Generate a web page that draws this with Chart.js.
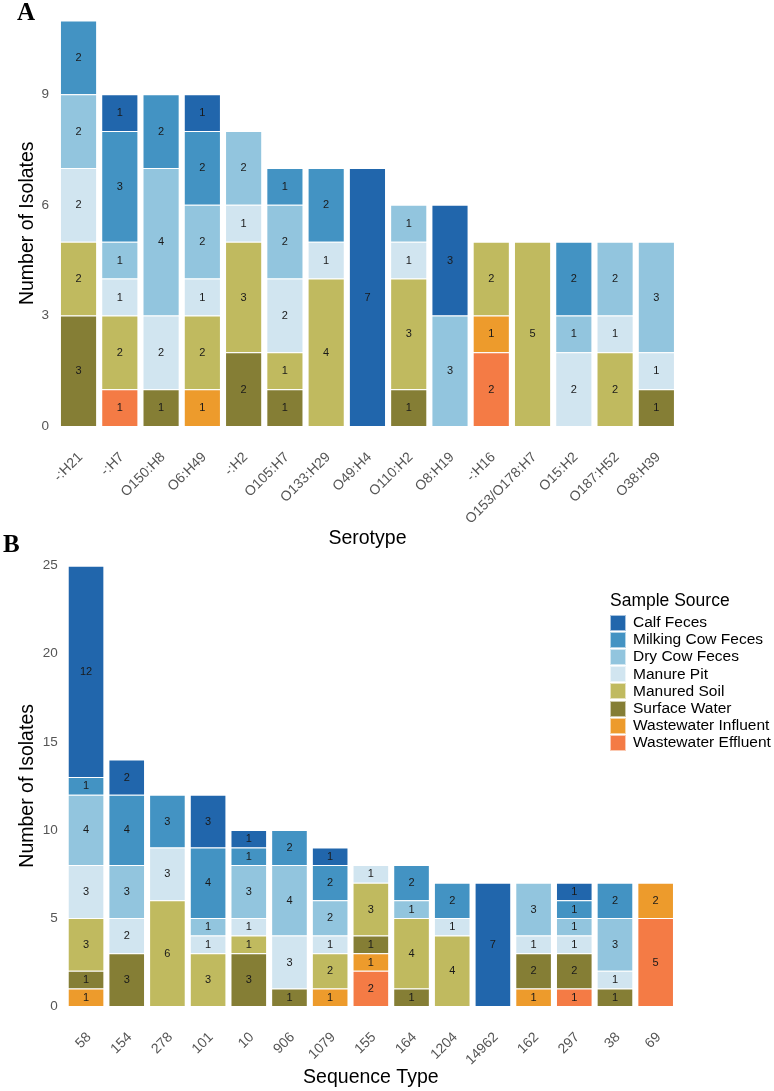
<!DOCTYPE html>
<html><head><meta charset="utf-8">
<script src="https://cdn.jsdelivr.net/npm/chart.js@4"></script>
<style>
html,body{margin:0;padding:0;background:#fff;width:774px;height:1091px;overflow:hidden;position:relative;font-family:"Liberation Sans",Arial,sans-serif}
.wrap{position:absolute;left:0;width:774px}
#wa{top:0;height:560px}
#wb{top:530px;height:561px}
.pl{position:absolute;font-family:"Liberation Serif","Times New Roman",serif;font-weight:bold;font-size:25px;line-height:25px;color:#000}
#legend{position:absolute;left:610px;top:590px;color:#000}
#legend .t{font-size:17.5px;line-height:20px;height:24px;white-space:nowrap}
#legend .r{height:17.2px;position:relative;white-space:nowrap}
#legend .s{position:absolute;left:0;top:0.6px;width:16px;height:16px;box-sizing:border-box;border:1px solid rgba(255,255,255,0.6)}
#legend .l{position:absolute;left:23px;top:-1px;font-size:15.5px;line-height:18px}
</style>
</head><body>
<div class="wrap" id="wa"><canvas id="ca"></canvas></div>
<div class="wrap" id="wb"><canvas id="cb"></canvas></div>
<div class="pl" style="left:17px;top:-1px">A</div>
<div class="pl" style="left:3px;top:531px">B</div>
<div id="legend"></div>
<script>
// ---- data ----
const sources = ['Calf Feces','Milking Cow Feces','Dry Cow Feces','Manure Pit','Manured Soil','Surface Water','Wastewater Influent','Wastewater Effluent'];
const sourceColors = ['#2166ac','#4393c3','#92c5de','#d1e5f0','#c0ba5f','#857e35','#ed9b2c','#f47b45'];

const serotypes = ['-:H21','-:H7','O150:H8','O6:H49','-:H2','O105:H7','O133:H29','O49:H4','O110:H2','O8:H19','-:H16','O153/O178:H7','O15:H2','O187:H52','O38:H39'];
const calfA      = [0,1,0,1,0,0,0,7,0,3,0,0,0,0,0];
const milkingA   = [2,3,2,2,0,1,2,0,0,0,0,0,2,0,0];
const dryA       = [2,1,4,2,2,2,0,0,1,3,0,0,1,2,3];
const pitA       = [2,1,2,1,1,2,1,0,1,0,0,0,2,1,1];
const soilA      = [2,2,0,2,3,1,4,0,3,0,2,5,0,2,0];
const surfaceA   = [3,0,1,0,2,1,0,0,1,0,0,0,0,0,1];
const influentA  = [0,0,0,1,0,0,0,0,0,0,1,0,0,0,0];
const effluentA  = [0,1,0,0,0,0,0,0,0,0,2,0,0,0,0];
const yTicksA = [0,3,6,9];
const yMaxA = 11;

const seqTypes = ['58','154','278','101','10','906','1079','155','164','1204','14962','162','297','38','69'];
const calfB      = [12,2,0,3,1,0,1,0,0,0,7,0,1,0,0];
const milkingB   = [1,4,3,4,1,2,2,0,2,2,0,0,1,2,0];
const dryB       = [4,3,0,1,3,4,2,0,1,0,0,3,1,3,0];
const pitB       = [3,2,3,1,1,3,1,1,0,1,0,1,1,1,0];
const soilB      = [3,0,6,3,1,0,2,3,4,4,0,0,0,0,0];
const surfaceB   = [1,3,0,0,3,1,0,1,1,0,0,2,2,1,0];
const influentB  = [1,0,0,0,0,0,1,1,0,0,0,1,0,0,2];
const effluentB  = [0,0,0,0,0,0,0,2,0,0,0,0,1,0,5];
const yTicksB = [0,5,10,15,20,25];
const yMaxB = 25;

// ---- chart helpers ----
const FONT = '"Liberation Sans", Arial, sans-serif';
const segLabels = {
  id:'segLabels',
  afterDatasetsDraw(chart){
    const ctx = chart.ctx; ctx.save();
    ctx.font = '11px ' + FONT;
    ctx.fillStyle = '#1a1a1a'; ctx.textAlign = 'center'; ctx.textBaseline = 'middle';
    chart.data.datasets.forEach((ds,i)=>{
      const meta = chart.getDatasetMeta(i);
      meta.data.forEach((el,j)=>{
        const v = ds.data[j]; if (v == null) return;
        ctx.fillText(String(v), el.x, (el.y + el.base)/2 + 0.5);
      });
    });
    ctx.restore();
  }
};

function buildDatasets(seriesList){
  // bottom of stack first: reverse the legend order
  const ds = seriesList.map((arr,i)=>({
    label: sources[i],
    data: arr.map(v=> v>0 ? v : null),
    backgroundColor: sourceColors[i],
    borderColor: 'rgba(255,255,255,0.55)',
    borderWidth: 1,
    barPercentage: 0.9,
    categoryPercentage: 1.0
  }));
  return ds.reverse();
}

function makeChart(id, labels, seriesList, yTicks, yMax, cfg){
  return new Chart(document.getElementById(id), {
    type:'bar',
    data:{labels, datasets: buildDatasets(seriesList)},
    plugins:[segLabels],
    options:{
      responsive:true, maintainAspectRatio:false, animation:false,
      layout:{padding:{left:0,right:cfg.padRight,top:cfg.padTop,bottom:0}},
      plugins:{legend:{display:false}, tooltip:{enabled:false}},
      scales:{
        x:{
          stacked:true,
          grid:{display:false, drawTicks:false}, border:{display:false},
          ticks:{color:'#555', font:{size:14,family:FONT}, minRotation:45, maxRotation:45, autoSkip:false, padding:cfg.xPad, labelOffset:cfg.xOff},
          title:{display:true, text:cfg.xTitle, color:'#000', font:{size:19.5,family:FONT}, padding:{top:0,bottom:cfg.xTitlePad}},
          afterFit(s){ s.height = cfg.xHeight; }
        },
        y:{
          stacked:true, min:0, max:yMax,
          grid:{display:false, drawTicks:false}, border:{display:false},
          afterBuildTicks(s){ s.ticks = yTicks.map(v=>({value:v})); },
          ticks:{color:'#555', font:{size:13.5,family:FONT}, padding:cfg.yPad},
          title:{display:true, text:'Number of Isolates', color:'#000', font:{size:19.5,family:FONT}, padding:{top:16.3,bottom:0}},
          afterFit(s){ s.width = cfg.yWidth; }
        }
      }
    }
  });
}

makeChart('ca', serotypes,
  [calfA,milkingA,dryA,pitA,soilA,surfaceA,influentA,effluentA],
  yTicksA, yMaxA,
  {padRight:97, padTop:20.5, xHeight:134, yWidth:57.9, xPad:23, xOff:2, yPad:9, xTitle:'Serotype', xTitlePad:10});

makeChart('cb', seqTypes,
  [calfB,milkingB,dryB,pitB,soilB,surfaceB,influentB,effluentB],
  yTicksB, yMaxB,
  {padRight:98, padTop:35.7, xHeight:85, yWidth:65.7, xPad:23, xOff:3, yPad:8, xTitle:'Sequence Type', xTitlePad:1.5});

// ---- legend ----
const lg = document.getElementById('legend');
let html = '<div class="t">Sample Source</div>';
sources.forEach((s,i)=>{
  html += '<div class="r"><span class="s" style="background:'+sourceColors[i]+'"></span><span class="l">'+s+'</span></div>';
});
lg.innerHTML = html;
</script>
</body></html>
